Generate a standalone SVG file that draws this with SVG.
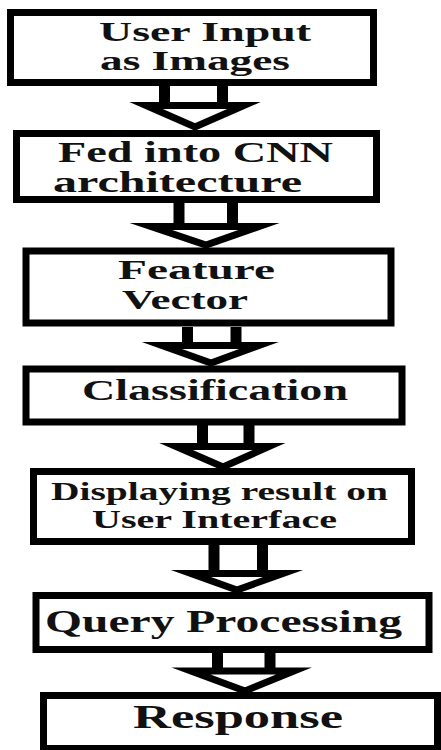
<svg xmlns="http://www.w3.org/2000/svg" width="441" height="750" viewBox="0 0 441 750">
  <style>
    .box { fill: #ffffff; stroke: #000000; stroke-width: 7; }
    .arrow { fill: #ffffff; stroke: #000000; stroke-linejoin: miter; stroke-miterlimit: 10; }
    .shaft { fill: none; stroke: #000000; stroke-width: 11; }
    text { font-family: 'Liberation Serif', 'Times New Roman', Times, serif; font-weight: 700; fill: #111111; }
  </style>
  <rect x="0" y="0" width="441" height="750" fill="#ffffff"/>

  <g id="connectors">
    <!-- arrow 1 -->
    <path class="shaft" d="M164.5,86 V106 M222.5,86 V106"/>
    <path class="arrow" stroke-width="7" d="M146,105.5 H244 L195,127 Z"/>
    <!-- arrow 2 -->
    <path class="shaft" d="M179,203 V227 M232.5,203 V227"/>
    <path class="arrow" stroke-width="7" d="M151,226.5 H259 L206,245 Z"/>
    <!-- arrow 3 -->
    <path class="shaft" d="M187.5,327 V346 M236,327 V346"/>
    <path class="arrow" stroke-width="7" d="M162,345.5 H259 L211,363 Z"/>
    <!-- arrow 4 -->
    <path class="shaft" d="M202.5,425 V447 M249,425 V447"/>
    <path class="arrow" stroke-width="7" d="M176,446.5 H269 L223,467 Z"/>
    <!-- arrow 5 -->
    <path class="shaft" d="M214,545 V574 M262.5,545 V574"/>
    <path class="arrow" stroke-width="7" d="M191,573.5 H283 L237,590 Z"/>
    <!-- arrow 6 -->
    <path class="shaft" d="M217.5,652 V671 M270,652 V671"/>
    <path class="arrow" stroke-width="7" d="M191,671 H294 L245,691 Z"/>
  </g>

  <g id="user-input">
    <rect class="box" x="10.5" y="12.5" width="363" height="70"/>
    <text x="99" y="41" font-size="28" textLength="212" lengthAdjust="spacingAndGlyphs">User Input</text>
    <text x="100" y="70" font-size="28" textLength="190" lengthAdjust="spacingAndGlyphs">as Images</text>
  </g>

  <g id="cnn">
    <rect class="box" x="16.5" y="133.5" width="360" height="66"/>
    <text x="58" y="162" font-size="29" textLength="275" lengthAdjust="spacingAndGlyphs">Fed into CNN</text>
    <text x="53" y="192" font-size="29" textLength="249" lengthAdjust="spacingAndGlyphs">architecture</text>
  </g>

  <g id="feature-vector">
    <rect class="box" x="26" y="251" width="365" height="72"/>
    <text x="118" y="279" font-size="28" textLength="157" lengthAdjust="spacingAndGlyphs">Feature</text>
    <text x="122" y="309" font-size="28" textLength="126" lengthAdjust="spacingAndGlyphs">Vector</text>
  </g>

  <g id="classification">
    <rect class="box" x="26" y="369" width="376" height="53"/>
    <text x="82" y="400" font-size="30" textLength="266" lengthAdjust="spacingAndGlyphs">Classification</text>
  </g>

  <g id="display-result">
    <rect class="box" x="33.5" y="471.5" width="378" height="70"/>
    <text x="51" y="500" font-size="26" textLength="337" lengthAdjust="spacingAndGlyphs">Displaying result on</text>
    <text x="92" y="528" font-size="26" textLength="245" lengthAdjust="spacingAndGlyphs">User Interface</text>
  </g>

  <g id="query-processing">
    <rect class="box" x="36" y="595.5" width="393" height="54"/>
    <text x="45" y="632" font-size="32" textLength="357" lengthAdjust="spacingAndGlyphs">Query Processing</text>
  </g>

  <g id="response">
    <rect class="box" x="43.5" y="695.5" width="394" height="53"/>
    <text x="133" y="728" font-size="34" textLength="210" lengthAdjust="spacingAndGlyphs">Response</text>
  </g>
</svg>
